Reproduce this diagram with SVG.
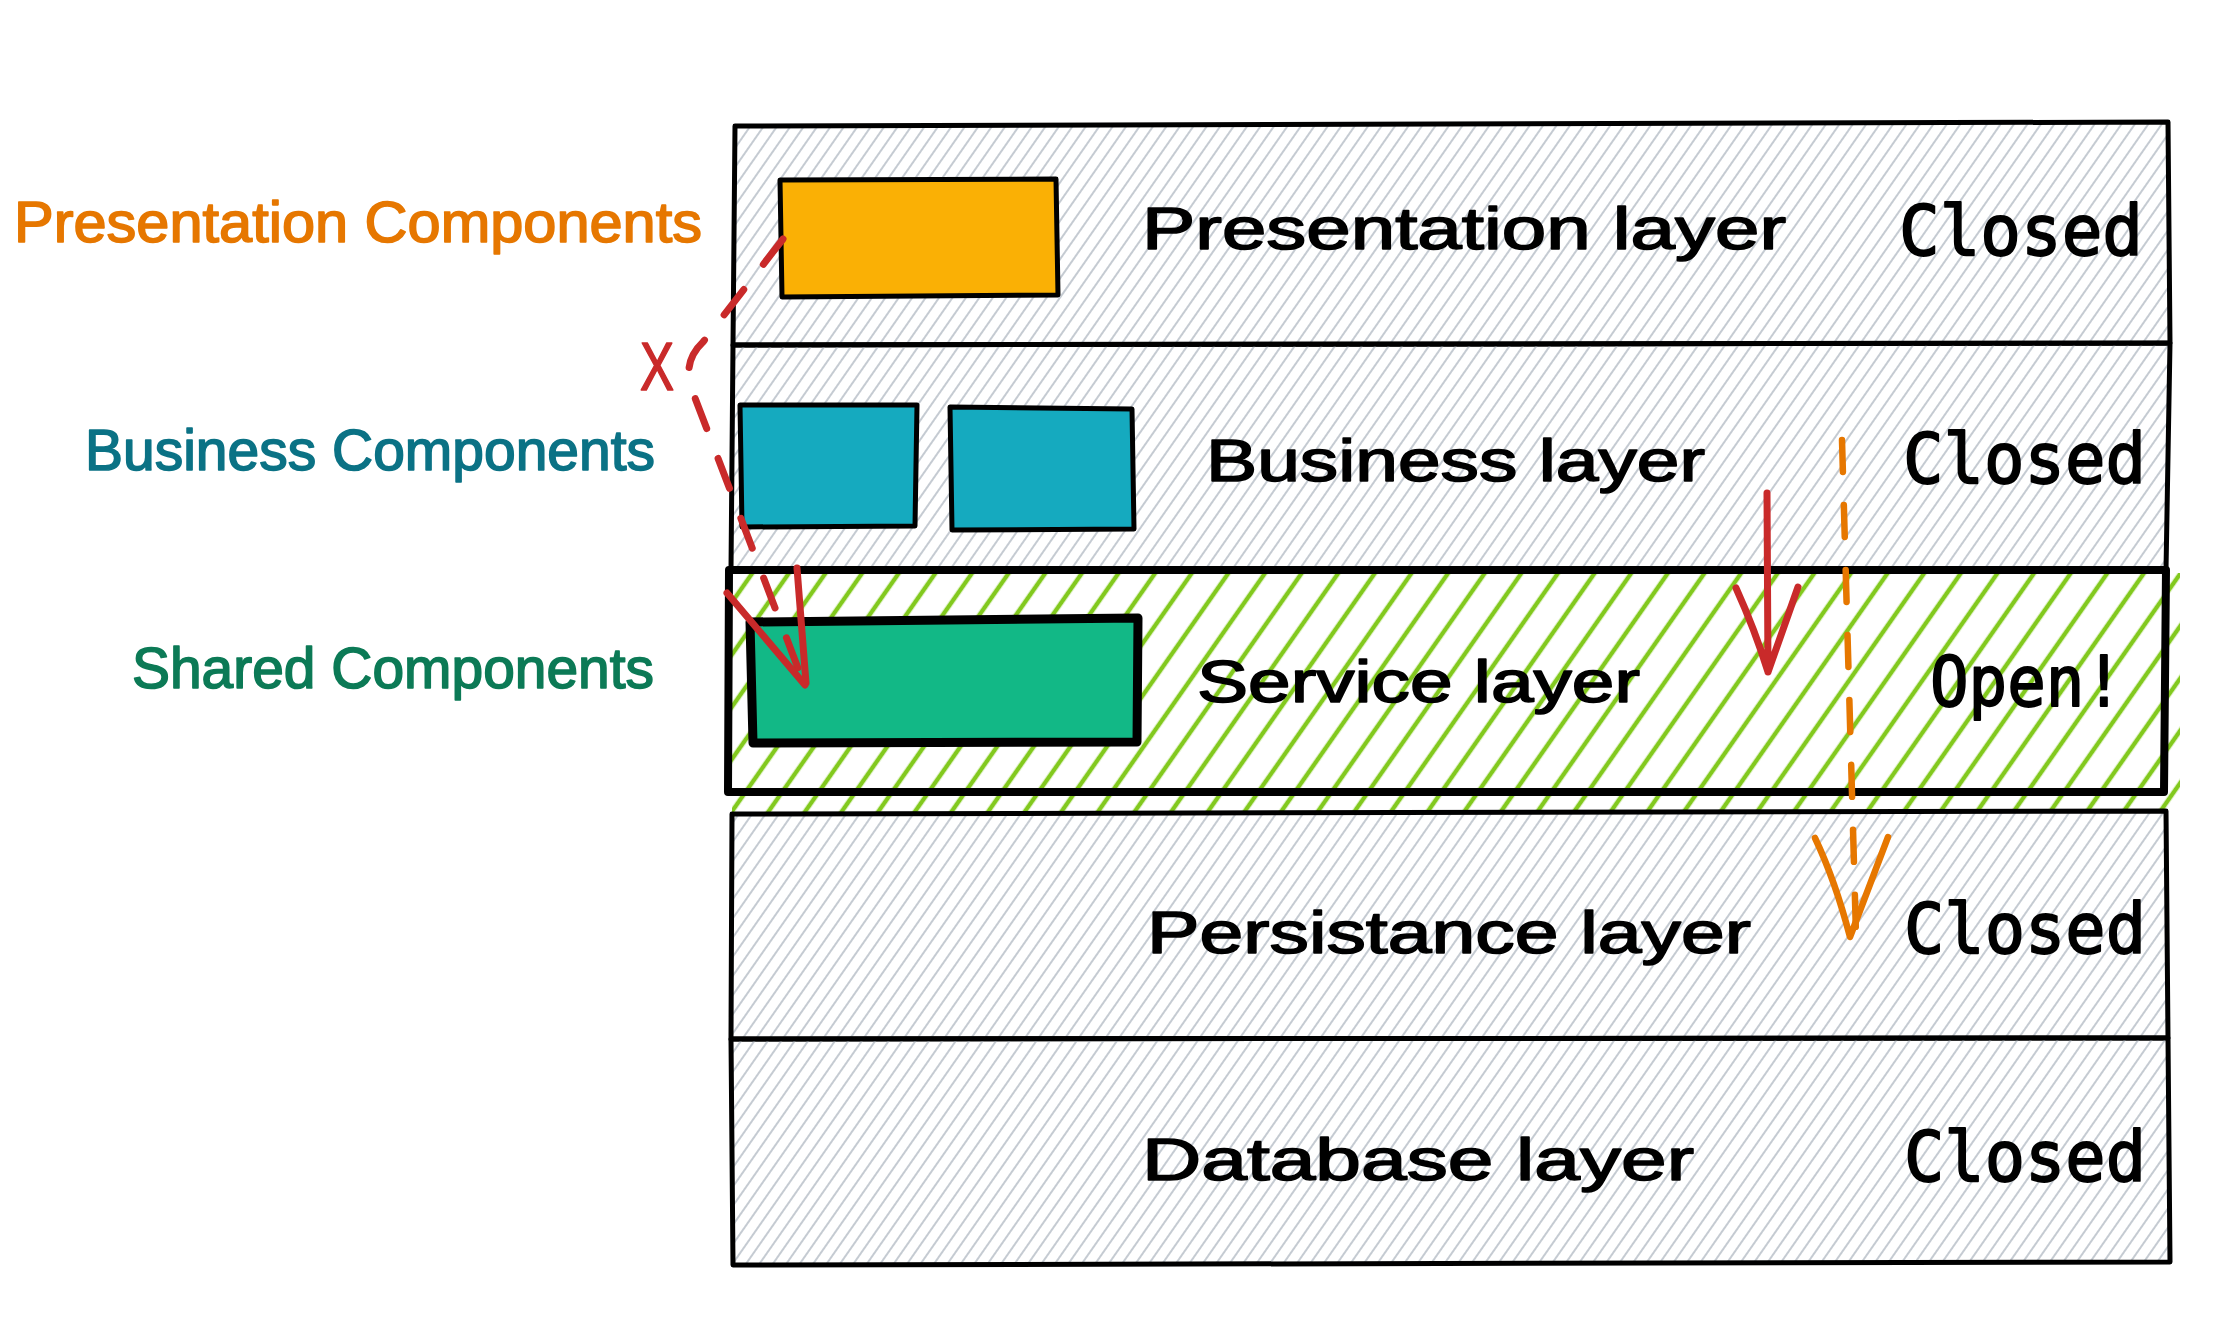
<svg xmlns="http://www.w3.org/2000/svg" width="2234" height="1342" viewBox="0 0 2234 1342">
<defs>
<pattern id="hatchGray" width="11" height="11" patternUnits="userSpaceOnUse" patternTransform="rotate(35)">
<line x1="5" y1="-1" x2="5" y2="12" stroke="#c5cbd2" stroke-width="2"/>
</pattern>
<pattern id="hatchGreen" width="30" height="30" patternUnits="userSpaceOnUse" patternTransform="rotate(35)">
<line x1="15" y1="-1" x2="15" y2="31" stroke="#82c91e" stroke-width="4.5"/>
</pattern>
<style>
.layer{fill:url(#hatchGray);stroke:#000000;stroke-width:5;stroke-linejoin:round}
.hand{font-family:"Liberation Sans","DejaVu Sans",sans-serif;stroke-width:1.6;stroke-linejoin:round}
.mono{font-family:"DejaVu Sans Mono","Liberation Mono",monospace;fill:#000000;stroke:#000000;stroke-width:1.8;stroke-linejoin:round}
.lname{font-size:60px;fill:#000000;stroke:#000000}
.side{font-size:57px}
.st{font-size:70px}
.comp{stroke:#000000;stroke-width:5;stroke-linejoin:round}
.red{stroke:#c92a2a;fill:none;stroke-width:7;stroke-linecap:round;stroke-linejoin:round}
.orange{stroke:#e67700;fill:none;stroke-width:6.5;stroke-linecap:round;stroke-linejoin:round}
</style>
</defs>
<rect width="2234" height="1342" fill="#ffffff"/>

<g id="layer-presentation">
<path class="layer" d="M735 126 L2168 122 L2170 343 L733 345 Z"/>
<text class="hand lname" x="1142" y="249" textLength="644" lengthAdjust="spacingAndGlyphs">Presentation layer</text>
<text class="mono st" x="1899" y="255" textLength="244" lengthAdjust="spacingAndGlyphs">Closed</text>
</g>

<g id="layer-business">
<path class="layer" d="M733 345 L2170 343 L2166 570 L731 570 Z"/>
<text class="hand lname" x="1206" y="481" textLength="499" lengthAdjust="spacingAndGlyphs">Business layer</text>
<text class="mono st" x="1903" y="483" textLength="243" lengthAdjust="spacingAndGlyphs">Closed</text>
</g>

<g id="layer-service">
<rect x="732" y="573" width="1448" height="240" fill="#ffffff"/>
<rect x="732" y="573" width="1448" height="240" fill="url(#hatchGreen)"/>
<path d="M729 570 L2166 570 L2164 792 L728 792 Z" fill="none" stroke="#000000" stroke-width="8" stroke-linejoin="round"/>
<text class="hand lname" x="1197" y="702" textLength="443" lengthAdjust="spacingAndGlyphs">Service layer</text>
<text class="mono st" x="1930" y="706" textLength="193" lengthAdjust="spacingAndGlyphs">Open!</text>
</g>

<g id="layer-persistance">
<rect x="731" y="813" width="1437" height="226" fill="#ffffff"/>
<path class="layer" d="M732 814 L2166 811 L2168 1038 L731 1039 Z"/>
<text class="hand lname" x="1147" y="953" textLength="604" lengthAdjust="spacingAndGlyphs">Persistance layer</text>
<text class="mono st" x="1904" y="953" textLength="242" lengthAdjust="spacingAndGlyphs">Closed</text>
</g>

<g id="layer-database">
<path class="layer" d="M731 1039 L2168 1038 L2170 1262 L733 1265 Z"/>
<text class="hand lname" x="1142" y="1180" textLength="552" lengthAdjust="spacingAndGlyphs">Database layer</text>
<text class="mono st" x="1904" y="1181" textLength="242" lengthAdjust="spacingAndGlyphs">Closed</text>
</g>

<g id="comp-presentation">
<path class="comp" fill="#fab005" d="M780 180 L1056 179 L1058 295 L782 297 Z"/>
</g>
<g id="comp-business-1">
<path class="comp" fill="#15aabf" d="M740 405 L917 405 L915 526 L742 527 Z"/>
</g>
<g id="comp-business-2">
<path class="comp" fill="#15aabf" d="M950 407 L1132 409 L1134 529 L952 530 Z"/>
</g>
<g id="comp-shared">
<path fill="#12b886" stroke="#000000" stroke-width="9" stroke-linejoin="round" d="M750 622 L1138 618 L1137 742 L753 743 Z"/>
</g>

<g id="label-presentation-components">
<text class="hand side" x="14" y="242" fill="#e67700" stroke="#e67700" textLength="688" lengthAdjust="spacingAndGlyphs">Presentation Components</text>
</g>
<g id="label-business-components">
<text class="hand side" x="85" y="470" fill="#0b7285" stroke="#0b7285" textLength="570" lengthAdjust="spacingAndGlyphs">Business Components</text>
</g>
<g id="label-shared-components">
<text class="hand side" x="132" y="688" fill="#0c7a56" stroke="#0c7a56" textLength="522" lengthAdjust="spacingAndGlyphs">Shared Components</text>
</g>

<g id="connectors">
<path class="red" stroke-dasharray="32 32" d="M783 239 L703 342 Q682 362 692 390 L804 684"/>
<path class="red" d="M727 593 L805 685 M797 568 L806 683"/>
<text class="hand" x="640" y="390" font-size="68" fill="#c92a2a" stroke="#c92a2a" stroke-width="3" textLength="34" lengthAdjust="spacingAndGlyphs">X</text>
<path class="red" d="M1767 493 L1768 672 M1736 588 Q1755 630 1768 672 L1798 587"/>
<path class="orange" stroke-dasharray="32 33" d="M1842 440 L1856 935"/>
<path class="orange" d="M1815 838 Q1835 880 1850 937 L1888 837"/>
</g>
</svg>
